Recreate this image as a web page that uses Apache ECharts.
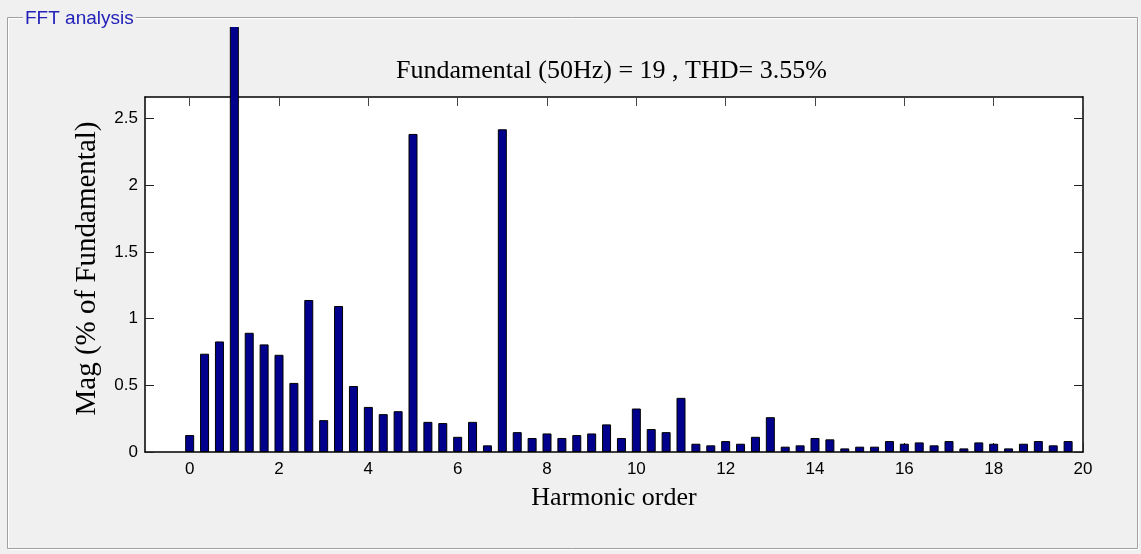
<!DOCTYPE html>
<html>
<head>
<meta charset="utf-8">
<script src="https://cdn.jsdelivr.net/npm/echarts@6/dist/echarts.min.js"></script>
<style>
  html, body { margin: 0; padding: 0; background: #f0f0f0; }
  #chart { width: 1141px; height: 554px; }
</style>
</head>
<body>
<div id="chart"></div>
<script>
// FFT spectrum, bins every 1/3 harmonic (50/3 Hz), magnitude in % of fundamental
const binsPerHarmonic = 3;
const mags = [
  0.127, 0.737, 0.829, 100, 0.894, 0.807, 0.729, 0.518, 1.140, 0.239,
  1.095, 0.495, 0.338, 0.284, 0.306, 2.385, 0.226, 0.217, 0.114, 0.226,
  0.050, 2.420, 0.149, 0.105, 0.139, 0.105, 0.127, 0.139, 0.207, 0.105,
  0.326, 0.172, 0.149, 0.406, 0.062, 0.050, 0.082, 0.062, 0.114, 0.261,
  0.040, 0.050, 0.105, 0.095, 0.027, 0.040, 0.040, 0.082, 0.062, 0.072,
  0.050, 0.082, 0.027, 0.072, 0.062, 0.027, 0.062, 0.082, 0.050, 0.082
];
const xTicks = [0, 2, 4, 6, 8, 10, 12, 14, 16, 18, 20];
const yTicks = [0, 0.5, 1, 1.5, 2, 2.5];
const xMin = -1, xMax = 20;
const yMax = 2.662; // 1.1 * largest harmonic

const titleText = "Fundamental (50Hz) = 19 , THD= 3.55%";
const BG = "#f0f0f0";
const SERIF = "'Liberation Serif', 'Times New Roman', serif";
const SANS = "'Liberation Sans', Arial, sans-serif";

const points = mags.map((v, i) => [i / binsPerHarmonic, v]);

const chart = echarts.init(document.getElementById("chart"), null, { renderer: "canvas" });

function axisBase(extra) {
  return Object.assign({
    type: "value",
    splitLine: { show: false },
    axisLine: { show: true, onZero: false, lineStyle: { color: "#000", width: 1.5 } },
    axisTick: { show: true, inside: true, length: 9, lineStyle: { color: "#222", width: 1 } }
  }, extra);
}

chart.setOption({
  backgroundColor: BG,
  animation: false,
  title: {
    text: titleText,
    left: 391,
    top: 53,
    textStyle: { fontFamily: SERIF, fontSize: 26, fontWeight: "normal", color: "#000" }
  },
  grid: {
    left: 145, right: 58, top: 97, bottom: 102,
    show: true, backgroundColor: "#fff", borderWidth: 0
  },
  xAxis: [
    axisBase({
      min: xMin, max: xMax, position: "bottom",
      name: "Harmonic order", nameLocation: "middle", nameGap: 33,
      nameTextStyle: { fontFamily: SERIF, fontSize: 26, color: "#000" },
      axisTick: { show: true, inside: true, length: 9, customValues: xTicks, lineStyle: { color: "#222" } },
      axisLabel: { customValues: xTicks, fontFamily: SANS, fontSize: 17, color: "#000", margin: 9 }
    }),
    axisBase({
      min: xMin, max: xMax, position: "top",
      axisTick: { show: true, inside: true, length: 9, customValues: xTicks, lineStyle: { color: "#444" } },
      axisLabel: { show: false }
    })
  ],
  yAxis: [
    axisBase({
      min: 0, max: yMax, position: "left",
      name: "Mag (% of Fundamental)", nameLocation: "middle", nameGap: 43,
      nameTextStyle: { fontFamily: SERIF, fontSize: 29, color: "#000", padding: [0, 0, 0, 12] },
      axisTick: { show: true, inside: true, length: 9, customValues: yTicks, lineStyle: { color: "#222" } },
      axisLabel: { customValues: yTicks, fontFamily: SANS, fontSize: 17, color: "#000", margin: 7 }
    }),
    axisBase({
      min: 0, max: yMax, position: "right",
      axisTick: { show: true, inside: true, length: 9, customValues: yTicks, lineStyle: { color: "#222" } },
      axisLabel: { show: false }
    })
  ],
  series: [{
    type: "bar",
    xAxisIndex: 0,
    yAxisIndex: 0,
    data: points,
    barWidth: 9,
    clip: false, // fundamental runs past the axes like the original
    itemStyle: { color: "#00008c", borderColor: "#000", borderWidth: 1 }
  }],
  graphic: [
    // panel background above the plot hides the overshooting fundamental bar
    { type: "rect", z: 100, silent: true, shape: { x: 0, y: 0, width: 1141, height: 27 }, style: { fill: BG } },
    // etched group-box frame
    { type: "rect", z: 101, silent: true, shape: { x: 8.5, y: 18.5, width: 1130, height: 531 }, style: { fill: null, stroke: "#fff", lineWidth: 1 } },
    { type: "rect", z: 102, silent: true, shape: { x: 7.5, y: 17.5, width: 1130, height: 531 }, style: { fill: null, stroke: "#a0a0a0", lineWidth: 1 } },
    {
      type: "text", z: 103, silent: true, left: 23, top: 9,
      style: {
        text: "FFT analysis", fill: "#2222b8", font: "19px " + SANS,
        backgroundColor: BG, padding: [0, 2]
      }
    }
  ]
});
</script>
</body>
</html>
